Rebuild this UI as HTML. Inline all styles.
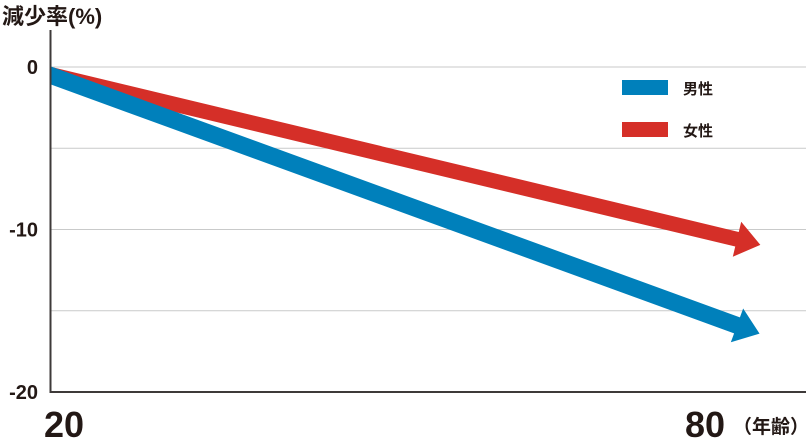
<!DOCTYPE html>
<html><head><meta charset="utf-8"><style>
body{margin:0;background:#fff;}
svg text{font-family:"Liberation Sans","Noto Sans CJK JP",sans-serif;font-weight:bold;fill:#231815;}
</style></head><body>
<svg width="810" height="440">
<defs><clipPath id="plotclip"><rect x="51" y="30" width="760" height="362"/></clipPath></defs>
<text x="2" y="24" font-size="22">減少率(%)</text>
<g id="grid"></g>
<g id="series" clip-path="url(#plotclip)"></g>
<line x1="50.5" y1="30" x2="50.5" y2="393" stroke="#3e3a39" stroke-width="2"/>
<line x1="50" y1="392" x2="806" y2="392" stroke="#3e3a39" stroke-width="2"/>
<rect x="622" y="80" width="46" height="15" fill="#0080bb"/>
<text x="683" y="94" font-size="15">男性</text>
<rect x="622" y="122" width="46" height="15" fill="#d52f28"/>
<text x="683" y="136" font-size="15">女性</text>
<text x="44" y="437" font-size="36">20</text>
<text x="685" y="437" font-size="36">80</text>
<text x="733" y="433" font-size="19">（年齢）</text>
</svg>
<script>
const yTicks=[0,-5,-10,-15,-20];
const yLabels=["0","","-10","","-20"];
const ages=[20,80];
const male=[-0.5,-15.9];
const female=[-0.45,-10.6];
const xs=a=>50+(a-20)*(737-50)/60;
const ys=v=>67+(-v)*325/20;
const NS="http://www.w3.org/2000/svg";
const grid=document.getElementById('grid');
yTicks.forEach((t,i)=>{
  if(t>-20){
  const l=document.createElementNS(NS,'line');
  l.setAttribute('x1',50);l.setAttribute('x2',806);
  l.setAttribute('y1',ys(t));l.setAttribute('y2',ys(t));
  l.setAttribute('stroke','#c9caca');l.setAttribute('stroke-width','1');
  
  
  grid.appendChild(l);}
  if(yLabels[i]){
  const tx=document.createElementNS(NS,'text');
  tx.setAttribute('x',38);tx.setAttribute('y',ys(t)+7);
  tx.setAttribute('text-anchor','end');tx.setAttribute('font-size','20');
  tx.textContent=yLabels[i];
  
  
  grid.appendChild(tx);}
});
const sg=document.getElementById('series');
function arrow(vals,color,w,name){
  const x0=xs(ages[0])-10,y0=ys(vals[0]),x1=xs(ages[1]),y1=ys(vals[1]);
  const sl=(y1-y0)/(xs(ages[1])-xs(ages[0]));
  const y0e=y0-10*sl;
  const dx=x1-x0,dy=y1-y0e,L=Math.hypot(dx,dy),ux=dx/L,uy=dy/L,nx=-uy,ny=ux;
  const hw=w/2,H=18,HL=24;
  const pts=[[x0+nx*hw,y0e+ny*hw],[x1+nx*hw,y1+ny*hw],[x1+nx*H,y1+ny*H],[x1+ux*HL,y1+uy*HL],
    [x1-nx*H,y1-ny*H],[x1-nx*hw,y1-ny*hw],[x0-nx*hw,y0e-ny*hw]];
  const p=document.createElementNS(NS,'polygon');
  p.setAttribute('points',pts.map(q=>q.join(',')).join(' '));
  p.setAttribute('fill',color);
  
  
  sg.appendChild(p);
}
arrow(female,'#d52f28',15,'female-line');
arrow(male,'#0080bb',17,'male-line');
</script>
</body></html>
